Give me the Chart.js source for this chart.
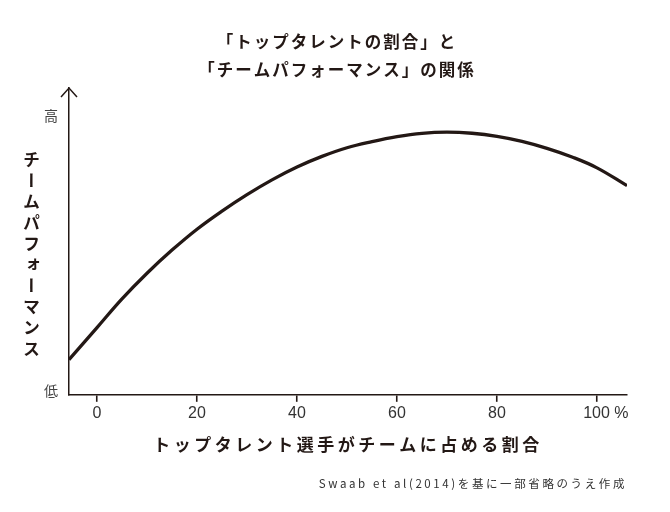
<!DOCTYPE html>
<html lang="ja">
<head>
<meta charset="utf-8">
<script src="https://cdn.jsdelivr.net/npm/chart.js@4/dist/chart.umd.min.js"></script>
<style>
  html, body { margin: 0; padding: 0; background: #ffffff; }
  #wrap { position: relative; width: 670px; height: 512px; }
  #yTitle {
    position: absolute; left: 21px; top: 151px;
    writing-mode: vertical-rl;
    font-family: "Noto Sans CJK JP", sans-serif; font-weight: bold;
    font-size: 17px; letter-spacing: 4px; color: #231815; line-height: 20px;
  }
</style>
</head>
<body>
<div id="wrap">
  <canvas id="c" width="670" height="512"></canvas>
  <div id="yTitle"></div>
</div>
<script>
// ---- data ----
const titleLines = ['「トップタレントの割合」と', '「チームパフォーマンス」の関係'];
const xAxisTitle = 'トップタレント選手がチームに占める割合';
const yAxisTitle = 'チームパフォーマンス';
const sourceText = 'Swaab et al(2014)を基に一部省略のうえ作成';
const xTickValues = [0, 20, 40, 60, 80, 100];
const xTickLabels = ['0', '20', '40', '60', '80', '\u2007\u2007100 %'];
const yTickValues = [1.5, 100];
const yTickLabels = ['低', '高'];
const topTalentShare = [-5.6, 0, 5, 10, 15, 20, 25, 30, 35, 40, 45, 50, 55, 60, 65, 70, 75, 80, 85, 90, 95, 100, 106];
const teamPerformance = [12.6, 24.1, 34.4, 43.6, 51.9, 59.4, 65.9, 71.8, 77.1, 81.7, 85.5, 88.6, 90.8, 92.6, 93.8, 94.2, 93.8, 92.7, 90.9, 88.4, 85.3, 81.4, 75.0];

document.getElementById('yTitle').textContent = yAxisTitle;

const INK = '#231815';
const JP = '"Noto Sans CJK JP", "Noto Sans", sans-serif';

// letter spacing for specific texts
const spacing = new Map();
titleLines.forEach(t => spacing.set(t, { ls: '2px', dx: 7 }));
spacing.set(xAxisTitle, { ls: '3.5px', dx: 0 });
spacing.set(sourceText, { ls: '2.6px', dx: 0 });

const spacingPlugin = {
  id: 'spacing',
  beforeInit(chart) {
    const ctx = chart.ctx;
    const orig = ctx.fillText;
    ctx.fillText = function (text, x, y, maxW) {
      const s = spacing.get(String(text));
      this.letterSpacing = s ? s.ls : '0px';
      const xx = s ? x + s.dx : x;
      if (maxW === undefined) return orig.call(this, text, xx, y);
      return orig.call(this, text, xx, y, maxW + 80);
    };
  }
};

const arrowPlugin = {
  id: 'arrow',
  afterDraw(chart) {
    const ctx = chart.ctx;
    const a = chart.chartArea;
    ctx.save();
    ctx.strokeStyle = INK;
    ctx.lineWidth = 1.5;
    ctx.beginPath();
    ctx.moveTo(a.left - 8, a.top + 9);
    ctx.lineTo(a.left, a.top);
    ctx.lineTo(a.left + 8, a.top + 9);
    ctx.stroke();
    ctx.restore();
  }
};

new Chart(document.getElementById('c'), {
  type: 'line',
  data: {
    datasets: [{
      data: topTalentShare.map((x, i) => ({ x: x, y: teamPerformance[i] })),
      borderColor: INK,
      borderWidth: 3.3,
      pointRadius: 0,
      tension: 0.4,
      fill: false
    }]
  },
  options: {
    responsive: false,
    animation: false,
    events: [],
    layout: { padding: { left: 33, right: 43, top: 0, bottom: 0 } },
    plugins: {
      legend: { display: false },
      tooltip: { enabled: false },
      title: {
        display: true,
        text: titleLines,
        color: INK,
        font: { family: JP, size: 16.5, weight: 'bold', lineHeight: 1.7 },
        padding: { top: 28, bottom: 4 }
      },
      subtitle: {
        display: true,
        position: 'bottom',
        align: 'end',
        text: sourceText,
        color: '#333333',
        font: { family: JP, size: 11.5, weight: 'normal', lineHeight: 1.2 },
        padding: { top: 22, bottom: 21 }
      }
    },
    scales: {
      x: {
        type: 'linear',
        min: -5.6,
        max: 106,
        afterBuildTicks(scale) { scale.ticks = xTickValues.map(v => ({ value: v })); },
        ticks: {
          color: '#333333',
          font: { family: '"Liberation Sans Narrow", "Liberation Sans", sans-serif', size: 16, lineHeight: 1.2 },
          padding: 2.4,
          maxRotation: 0,
          autoSkip: false,
          callback: (v) => { const i = xTickValues.indexOf(v); return i >= 0 ? xTickLabels[i] : ''; }
        },
        grid: { display: true, drawOnChartArea: false, drawTicks: true, tickLength: 7, color: INK, tickColor: INK, lineWidth: 1.5, tickWidth: 1.6 },
        border: { display: true, color: INK, width: 1.5 },
        title: {
          display: true,
          text: xAxisTitle,
          color: INK,
          font: { family: JP, size: 17, weight: 'bold', lineHeight: 1.2 },
          padding: { top: 9, bottom: 0 }
        }
      },
      y: {
        type: 'linear',
        min: 0,
        max: 110,
        afterBuildTicks(scale) { scale.ticks = yTickValues.map(v => ({ value: v })); },
        ticks: {
          color: '#444444',
          font: { family: JP, size: 14 },
          padding: 11,
          autoSkip: false,
          callback: (v) => { const i = yTickValues.indexOf(v); return i >= 0 ? yTickLabels[i] : ''; }
        },
        grid: { display: true, drawOnChartArea: false, drawTicks: false, color: INK, lineWidth: 1.5 },
        border: { display: true, color: INK, width: 1.5 }
      }
    }
  },
  plugins: [spacingPlugin, arrowPlugin]
});
</script>
</body>
</html>
